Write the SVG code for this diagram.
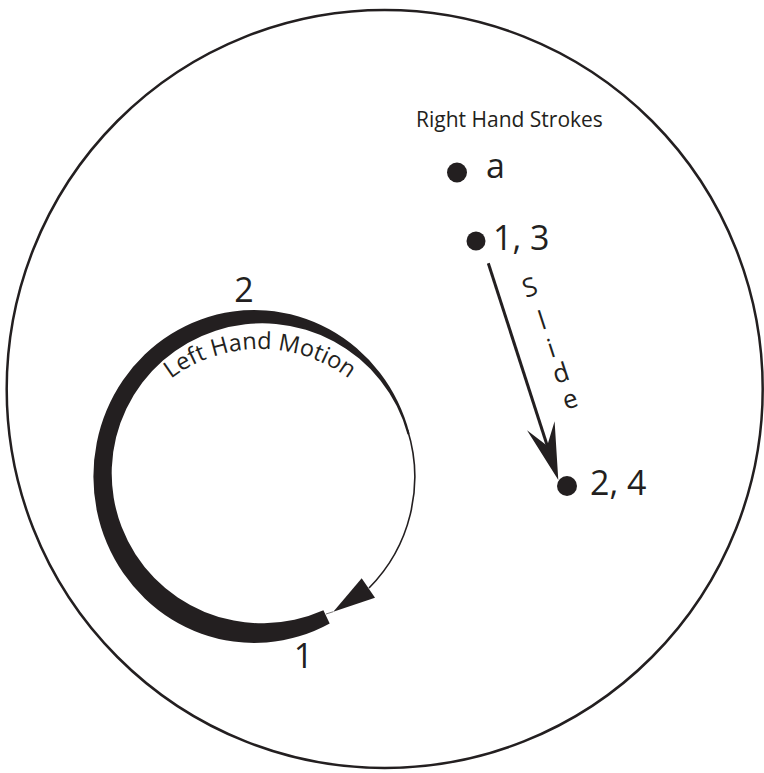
<svg xmlns="http://www.w3.org/2000/svg" width="764" height="773" viewBox="0 0 764 773">
  <style>
    .t { font-family: "Open Sans", "Liberation Sans", sans-serif; fill: #231f20; }
    .big { font-size: 34px; }
    .ink { fill: #231f20; stroke: none; }
    .line { fill: none; stroke: #231f20; }
  </style>
  <defs>
    <path id="lhm-path" d="M 112,497 A 148 148 0 0 1 408,497"/>
  </defs>
  <rect width="764" height="773" fill="#ffffff"/>

  <g id="boundary">
    <ellipse cx="384.7" cy="389" rx="378" ry="379" class="line" stroke-width="2.5"/>
  </g>

  <g id="left-hand-motion">
    <path class="ink" d="M 329.69,623.50 A 160.8 166.5 0 1 1 409.52,433.41 L 407.57,434.48 A 150.5 150 0 1 0 323.41,610.33 Z"/>
    <path class="line" stroke-width="1.6" d="M 407.6,430 A 157.5 157.5 0 0 1 369,588"/>
    <path class="line" stroke-width="0.6" d="M 333.3,611.7 L 326,614"/>
    <polygon class="ink" points="361.7,578.3 375,597.8 333.3,611.7"/>
    <text class="t" font-size="23.5"><textPath href="#lhm-path" startOffset="50%" text-anchor="middle">Left Hand Motion</textPath></text>
    <text class="t big" x="244" y="301.5" text-anchor="middle">2</text>
    <text class="t big" x="303.5" y="668" text-anchor="middle">1</text>
  </g>

  <g id="right-hand-title">
    <text class="t" x="416" y="127" font-size="21">Right Hand Strokes</text>
  </g>

  <g id="stroke-a">
    <circle class="ink" cx="457" cy="172.5" r="10"/>
    <text class="t big" x="486" y="178.3">a</text>
  </g>

  <g id="stroke-1-3">
    <circle class="ink" cx="476" cy="241" r="9.5"/>
    <text class="t big" x="493" y="250">1, 3</text>
  </g>

  <g id="stroke-2-4">
    <circle class="ink" cx="567" cy="486" r="10"/>
    <text class="t big" x="590" y="495">2, 4</text>
  </g>

  <g id="connectors">
    <line class="line" stroke-width="3" x1="488.3" y1="263.3" x2="548" y2="448"/>
    <polygon class="ink" points="558.3,480 554.6,421.2 547.2,445.7 527,430.2"/>
    <text class="t" font-size="26" text-anchor="middle" x="533 545 554 564 573" y="298 330 358 384 410" rotate="-18 -18 -18 -18 -18">Slide</text>
  </g>
</svg>
